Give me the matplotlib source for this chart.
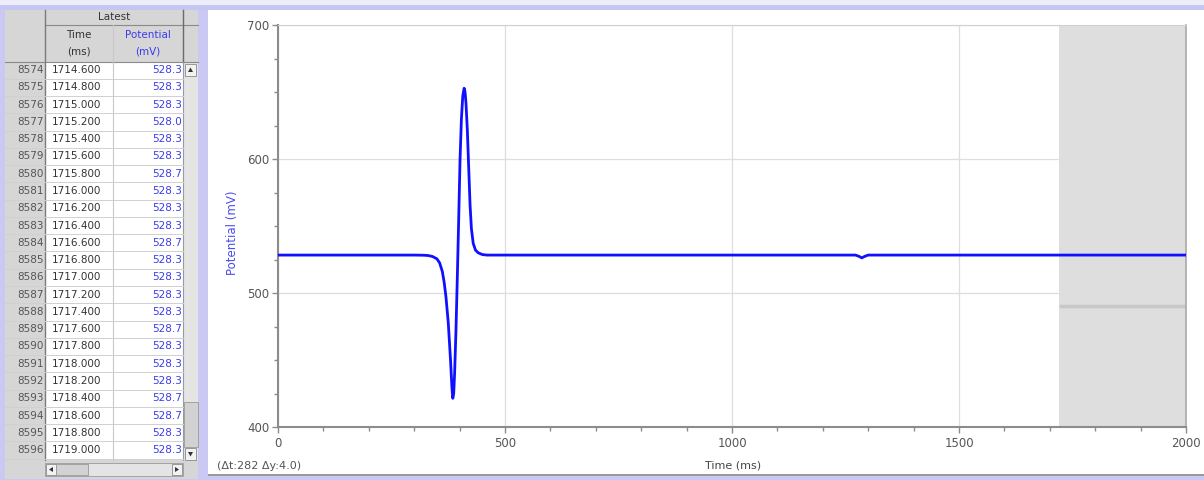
import matplotlib
matplotlib.use("Agg")
import matplotlib.pyplot as plt
from matplotlib.patches import Rectangle, Polygon
from matplotlib.ticker import MultipleLocator

# ---------------- data ----------------
time_ms = [0, 100, 200, 300, 320, 330, 340, 350, 356, 362, 366, 370, 375, 380, 383,
           385, 387, 389, 392, 395, 398, 401, 404, 407, 410, 412, 414, 417, 420, 423,
           426, 430, 435, 441, 450, 460, 600, 800, 1000, 1200, 1272,
           1280, 1286, 1292, 1300, 1400, 1600, 1719, 1800, 1900, 2000]
potential_mv = [528.3, 528.3, 528.3, 528.3, 528.2, 528.0, 527.3, 525.5, 522.5, 516.0,
                508.0, 497.0, 478.0, 450.0, 430.0,
                421.4, 425.0, 440.0, 472.0, 512.0, 555.0, 600.0, 630.0, 647.0, 652.8,
                650.0, 642.0, 622.0, 594.0, 566.0,
                548.0, 537.0, 532.0, 530.0, 528.7, 528.3, 528.3, 528.3, 528.3, 528.3, 528.3,
                527.3, 526.2, 527.3, 528.3, 528.3, 528.3, 528.3, 528.3, 528.3, 528.3]

table_rows = ["8574", "8575", "8576", "8577", "8578", "8579", "8580", "8581", "8582",
              "8583", "8584", "8585", "8586", "8587", "8588", "8589", "8590", "8591",
              "8592", "8593", "8594", "8595", "8596"]
table_time = ["1714.600", "1714.800", "1715.000", "1715.200", "1715.400", "1715.600",
              "1715.800", "1716.000", "1716.200", "1716.400", "1716.600", "1716.800",
              "1717.000", "1717.200", "1717.400", "1717.600", "1717.800", "1718.000",
              "1718.200", "1718.400", "1718.600", "1718.800", "1719.000"]
table_potential = ["528.3", "528.3", "528.3", "528.0", "528.3", "528.3", "528.7", "528.3",
                   "528.3", "528.3", "528.7", "528.3", "528.3", "528.3", "528.3", "528.7",
                   "528.3", "528.3", "528.3", "528.7", "528.7", "528.3", "528.3"]

shade_start = 1721
shade_level = 490
x_ticks = [0, 500, 1000, 1500, 2000]
y_ticks = [400, 500, 600, 700]

W, H = 1204, 480
fig = plt.figure(figsize=(W / 100, H / 100), dpi=100)
fig.patch.set_facecolor("#c9c9f3")

# ---------------- background / table (pixel coords) ----------------
bg = fig.add_axes([0, 0, 1, 1])
bg.set_xlim(0, W)
bg.set_ylim(H, 0)
bg.axis("off")

def rect(x0, y0, x1, y1, fc, ec="none", lw=0, z=1):
    bg.add_patch(Rectangle((x0, y0), x1 - x0, y1 - y0, facecolor=fc, edgecolor=ec, lw=lw, zorder=z))

rect(0, 0, W, 5, "#ededfa")
rect(0, 5, W, 10, "#c6c6f2")
# chart panel
rect(208, 10, W, 475, "white")
rect(208, 474, W, 476, "#9a9a9a", z=2)
# table panel
rect(5, 10, 198, 479, "#d6d6d6")
# white data area
rect(45, 62, 183, 460, "white")
# header lines
bg.plot([45, 198], [25, 25], color="#8a8a8a", lw=0.8, zorder=3)
bg.plot([5, 198], [62, 62], color="#8a8a8a", lw=0.8, zorder=3)
bg.plot([45, 45], [10, 460], color="#7a7a7a", lw=1.0, zorder=3)
bg.plot([113, 113], [25, 460], color="#c8c8c8", lw=0.8, zorder=3)
bg.plot([183, 183], [10, 62], color="#6a6a6a", lw=1.0, zorder=3)
bg.plot([183, 183], [62, 460], color="#9a9a9a", lw=0.8, zorder=3)
bg.text(114, 17.5, "Latest", ha="center", va="center", fontsize=7.5, color="#333333", zorder=4)
bg.text(79, 35, "Time", ha="center", va="center", fontsize=7.5, color="#333333", zorder=4)
bg.text(79, 52, "(ms)", ha="center", va="center", fontsize=7.5, color="#333333", zorder=4)
bg.text(148, 35, "Potential", ha="center", va="center", fontsize=7.5, color="#3c3cf0", zorder=4)
bg.text(148, 52, "(mV)", ha="center", va="center", fontsize=7.5, color="#3c3cf0", zorder=4)

pitch = 17.27
top = 61.5
for i, (r, t, p) in enumerate(zip(table_rows, table_time, table_potential)):
    yc = top + pitch * (i + 0.5)
    yb = top + pitch * (i + 1)
    bg.plot([5, 183], [yb, yb], color="#d0d0d0", lw=0.7, zorder=3)
    bg.text(44, yc, r, ha="right", va="center", fontsize=7.5, color="#555555", zorder=4)
    bg.text(52, yc, t, ha="left", va="center", fontsize=7.5, color="#333333", zorder=4)
    bg.text(182, yc, p, ha="right", va="center", fontsize=7.5, color="#3c3cf0", zorder=4)

# vertical scrollbar
rect(184, 62, 198, 460, "#e4e4e4", z=2)
rect(185, 64, 196, 76, "#f2f2f2", ec="#8a8a8a", lw=0.6, z=3)
bg.add_patch(Polygon([[188, 72], [193, 72], [190.5, 67.5]], closed=True, fc="#333333", zorder=4))
rect(184, 402, 198, 447, "#d2d2d2", ec="#9a9a9a", lw=0.6, z=3)
rect(185, 448, 196, 460, "#f2f2f2", ec="#8a8a8a", lw=0.6, z=3)
bg.add_patch(Polygon([[188, 452], [193, 452], [190.5, 456.5]], closed=True, fc="#333333", zorder=4))
# horizontal scrollbar
rect(45, 463, 183, 476, "#e4e4e4", ec="#9a9a9a", lw=0.6, z=2)
rect(46, 464, 56, 475, "#f2f2f2", ec="#8a8a8a", lw=0.6, z=3)
bg.add_patch(Polygon([[53, 467], [53, 472], [49, 469.5]], closed=True, fc="#333333", zorder=4))
rect(56, 464, 88, 475, "#d2d2d2", ec="#9a9a9a", lw=0.6, z=3)
rect(172, 464, 182, 475, "#f2f2f2", ec="#8a8a8a", lw=0.6, z=3)
bg.add_patch(Polygon([[175, 467], [175, 472], [179, 469.5]], closed=True, fc="#333333", zorder=4))

# ---------------- chart ----------------
ax = fig.add_axes([278 / W, 1 - 427 / H, 908 / W, 402 / H])
ax.set_facecolor("white")
ax.set_xlim(0, 2000)
ax.set_ylim(400, 700)
ax.axvspan(shade_start, 2000, color="#dedede", zorder=0, lw=0)
ax.hlines(shade_level, shade_start, 2000, color="#c8c8c8", lw=2.5, zorder=1)
ax.set_xticks(x_ticks)
ax.set_yticks(y_ticks)
ax.xaxis.set_minor_locator(MultipleLocator(100))
ax.yaxis.set_minor_locator(MultipleLocator(25))
ax.grid(True, which="major", color="#dedede", lw=0.9, zorder=1)
ax.set_axisbelow(True)
ax.plot(time_ms, potential_mv, color="#1010ff", lw=2.0, zorder=5,
        solid_joinstyle="round", solid_capstyle="round")

for s in ["left", "bottom"]:
    ax.spines[s].set_color("#8c8c8c")
    ax.spines[s].set_linewidth(1.5)
ax.spines["top"].set_color("#d0d0d0")
ax.spines["right"].set_color("#a8a8a8")
ax.spines["right"].set_linewidth(1.2)
ax.tick_params(which="major", direction="out", length=4, width=1, color="#8c8c8c",
               labelsize=8.5, labelcolor="#555555", pad=2)
ax.tick_params(which="minor", direction="out", length=3, width=1, color="#8c8c8c")
ax.tick_params(axis="x", pad=3)

fig.text(733 / W, 1 - 466 / H, "Time (ms)", ha="center", va="center", fontsize=8, color="#444444")
fig.text(232 / W, 1 - 233 / H, "Potential (mV)", ha="center", va="center", rotation=90,
         fontsize=8.5, color="#4a4af5")
fig.text(217 / W, 1 - 466 / H, "(\u0394t:282 \u0394y:4.0)", ha="left", va="center", fontsize=8,
         color="#555555")

fig.savefig("out.png", dpi=100, facecolor=fig.get_facecolor())
